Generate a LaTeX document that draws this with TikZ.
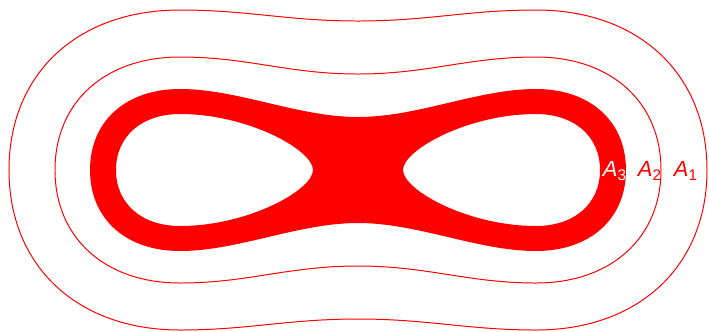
\documentclass[tikz,border=0pt]{standalone}
\usepackage{fontspec}
\setmainfont{Liberation Sans}

\begin{document}
\begin{tikzpicture}[x=0.5bp, y=0.5bp,
  level/.style={red, line width=0.5pt},
  band/.style={fill=red, even odd rule},
  lab/.style={font=\fontsize{11}{13}\selectfont, inner sep=0pt}]
  \useasboundingbox (-358,-161) rectangle (351,170);

  % --- outer level curve A1 ---
  \draw[level] (-349,0) .. controls (-349,96) and (-281,160) .. (-178,160)
    .. controls (-110,160) and (-70,149) .. (0,149)
    .. controls (70,149) and (110,160) .. (178,160)
    .. controls (281,160) and (349,96) .. (349,0)
    .. controls (349,-96) and (281,-160) .. (178,-160)
    .. controls (110,-160) and (70,-149) .. (0,-149)
    .. controls (-70,-149) and (-110,-160) .. (-178,-160)
    .. controls (-281,-160) and (-349,-96) .. cycle;

  % --- middle level curve A2 ---
  \draw[level] (-303,0) .. controls (-303,68) and (-253,113) .. (-178,113)
    .. controls (-110,113) and (-70,96) .. (0,96)
    .. controls (70,96) and (110,113) .. (178,113)
    .. controls (253,113) and (303,68) .. (303,0)
    .. controls (303,-68) and (253,-113) .. (178,-113)
    .. controls (110,-113) and (70,-96) .. (0,-96)
    .. controls (-70,-96) and (-110,-113) .. (-178,-113)
    .. controls (-253,-113) and (-303,-68) .. cycle;

  % --- filled band A3 with its two holes ---
  \path[band] (-268,0) .. controls (-268,49) and (-232,81) .. (-178,81)
    .. controls (-120,81) and (-60,53) .. (0,53)
    .. controls (60,53) and (120,81) .. (178,81)
    .. controls (232,81) and (268,49) .. (268,0)
    .. controls (268,-49) and (232,-81) .. (178,-81)
    .. controls (120,-81) and (60,-53) .. (0,-53)
    .. controls (-60,-53) and (-120,-81) .. (-178,-81)
    .. controls (-232,-81) and (-268,-49) .. cycle
    % left hole
    (-242,0) .. controls (-242,34) and (-216,56) .. (-178,56)
    .. controls (-110,56) and (-45,20) .. (-45,0)
    .. controls (-45,-20) and (-110,-56) .. (-178,-56)
    .. controls (-216,-56) and (-242,-34) .. cycle
    % right hole
    (242,0) .. controls (242,34) and (216,56) .. (178,56)
    .. controls (110,56) and (45,20) .. (45,0)
    .. controls (45,-20) and (110,-56) .. (178,-56)
    .. controls (216,-56) and (242,-34) .. cycle;

  % --- labels ---
  \node[lab, text=white] (a3) at (257,-1) {\textit{A}\textsubscript{3}};
  \node[lab, text=red] (a2) at (292,-1) {\textit{A}\textsubscript{2}};
  \node[lab, text=red] (a1) at (328,-1) {\textit{A}\textsubscript{1}};
\end{tikzpicture}
\end{document}
